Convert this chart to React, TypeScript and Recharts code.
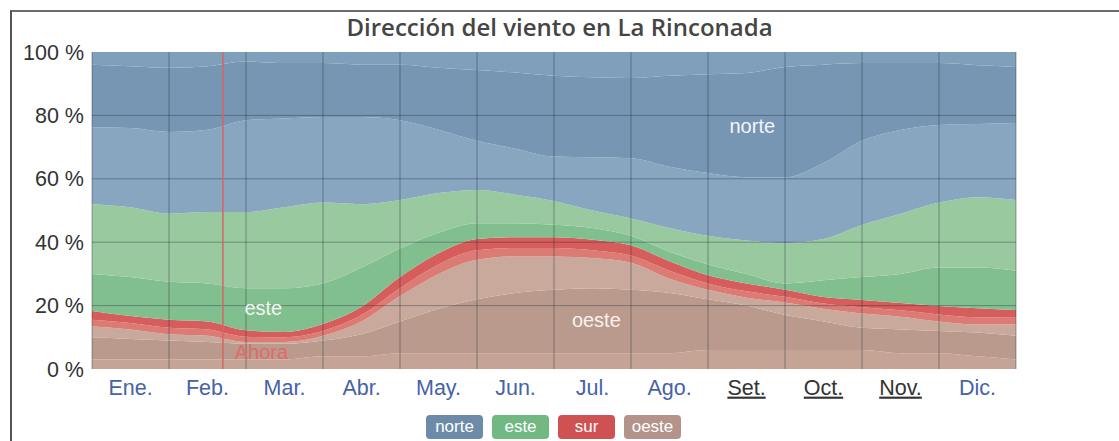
import React from "react";
import { AreaChart, Area, XAxis, YAxis, ReferenceLine, ReferenceDot } from "recharts";

// half-month steps: 0 = 1 Ene, 2 = 1 Feb, ... 24 = 31 Dic
const steps = [0, 1, 2, 3, 4, 5, 6, 7, 8, 9, 10, 11, 12, 13, 14, 15, 16, 17, 18, 19, 20, 21, 22, 23, 24];
const months = ["Ene.", "Feb.", "Mar.", "Abr.", "May.", "Jun.", "Jul.", "Ago.", "Set.", "Oct.", "Nov.", "Dic."];
const underlined = ["Set.", "Oct.", "Nov."];
const monthTicks = [1, 3, 5, 7, 9, 11, 13, 15, 17, 19, 21, 23];
const monthEdges = [0, 2, 4, 6, 8, 10, 12, 14, 16, 18, 20, 22, 24];
const pctTicks = [0, 20, 40, 60, 80, 100];
const nowStep = 3.4;

// cumulative band edges (% of hours), bottom to top
const oesteNoTop = [3, 3, 3, 3, 3, 3, 4, 4, 5, 5, 5, 5, 5, 5, 5, 5, 6, 6, 6, 6, 6, 5, 5, 4, 3];
const oesteCoreTop = [10, 9.5, 9, 8.5, 8, 8, 9, 11, 15, 19, 22, 24, 25, 25.5, 25, 24, 22, 20, 17, 15, 13, 12.5, 12, 11.5, 10.5];
const surBottom = [13.5, 12.5, 11, 10.5, 8.5, 8.5, 10.5, 15, 23, 30, 34.5, 35.5, 35.5, 35, 33.5, 28.5, 25, 22.5, 21, 19, 17.5, 16.5, 15, 14, 14];
const surMid = [15.5, 14.5, 13, 12.5, 10.2, 10, 12, 17, 25.5, 33, 37.5, 38.2, 38.2, 37.5, 35.8, 31, 27, 24.5, 22.8, 20.7, 19.5, 18.5, 17.2, 16.3, 16.2];
const surTop = [18.3, 16.7, 15.5, 15, 12.2, 11.7, 14.2, 19.6, 29, 36.5, 41, 41.6, 41.6, 40.8, 39, 34, 29.6, 27, 25, 22.7, 21.8, 20.8, 19.9, 19.2, 18.6];
const esteCoreTop = [30, 29, 27.5, 27, 25.5, 25.5, 27, 32, 38, 43, 46, 46, 45.5, 44.5, 42, 37, 33, 30, 27, 28, 29, 30, 32, 32, 31];
const esteTop = [52, 51, 49, 49.5, 49.5, 51, 52.5, 52, 53.3, 55.5, 56.5, 55, 53, 50, 47.5, 44.5, 42, 40.5, 39.7, 41, 45.4, 49, 52.5, 54.2, 53.3];
const norteNeTop = [76.3, 76, 74.8, 75.5, 78.5, 79, 79.5, 79.5, 78.5, 75.5, 72, 69.5, 67, 66.8, 66.5, 63.8, 61.8, 60.5, 60.5, 65, 72, 75.4, 77, 77.3, 77.6];
const norteCoreTop = [96, 95.5, 95, 95.5, 97, 96.5, 96.5, 96, 96, 95, 94.3, 93.5, 92.5, 92, 91.8, 92.5, 93, 93.4, 95.3, 96, 96.5, 96.5, 96.5, 95.8, 95.3];

const data = steps.map((s, i) => ({
  step: s,
  floor: 0,
  oesteNoTop: oesteNoTop[i],
  oesteCoreTop: oesteCoreTop[i],
  surBottom: surBottom[i],
  surMid: surMid[i],
  surTop: surTop[i],
  esteCoreTop: esteCoreTop[i],
  esteTop: esteTop[i],
  norteNeTop: norteNeTop[i],
  norteCoreTop: norteCoreTop[i],
  ceil: 100,
}));

const bands = [
  { low: "floor", high: "oesteNoTop", fill: "#c5a496" },
  { low: "oesteNoTop", high: "oesteCoreTop", fill: "#ba9a8c" },
  { low: "oesteCoreTop", high: "surBottom", fill: "#c8a99b" },
  { low: "surBottom", high: "surMid", fill: "#dc7a74" },
  { low: "surMid", high: "surTop", fill: "#d65d5c" },
  { low: "surTop", high: "esteCoreTop", fill: "#82bf8f" },
  { low: "esteCoreTop", high: "esteTop", fill: "#99c99f" },
  { low: "esteTop", high: "norteNeTop", fill: "#88a6c0" },
  { low: "norteNeTop", high: "norteCoreTop", fill: "#7696b3" },
  { low: "norteCoreTop", high: "ceil", fill: "#809fbb" },
];

const legendItems = [
  { name: "norte", color: "#6c8ba8" },
  { name: "este", color: "#72b883" },
  { name: "sur", color: "#cf5151" },
  { name: "oeste", color: "#b3938a" },
];

const axisFont = "'Liberation Sans', Arial, sans-serif";

function MonthTick(props: any) {
  const { x, y, payload } = props;
  const label = months[(payload.value - 1) / 2];
  const dark = underlined.includes(label);
  return (
    <text
      x={x}
      y={y}
      dy="0.355em"
      textAnchor="middle"
      fontSize={21.5}
      fontFamily={axisFont}
      fill={dark ? "#333" : "#4662a8"}
      textDecoration={dark ? "underline" : undefined}
    >
      {label}
    </text>
  );
}

export default function App() {
  return (
    <div style={{ position: "absolute", left: 0, top: 0, width: 1119, height: 441, background: "#fff", overflow: "hidden" }}>
      <div style={{ position: "absolute", left: 10, top: 10, width: 1109, height: 431, borderTop: "2px solid #6a6a6a", borderLeft: "2px solid #555" }} />
      <div
        style={{
          position: "absolute",
          left: 0,
          width: 1119,
          top: 10,
          textAlign: "center",
          fontFamily: "'Open Sans', sans-serif",
          fontSize: 24,
          fontWeight: 600,
          color: "#454545",
        }}
      >
        Dirección del viento en La Rinconada
      </div>
      <div style={{ position: "absolute", left: 0, top: 0 }}>
        <AreaChart width={1119} height={441} data={data} margin={{ top: 52, right: 23, bottom: 42, left: 12 }}>
          <XAxis
            dataKey="step"
            type="number"
            domain={[0, 24]}
            ticks={monthTicks}
            tick={<MonthTick />}
            tickSize={0}
            tickMargin={18}
            axisLine={false}
            height={30}
            interval={0}
          />
          <YAxis
            yAxisId="left"
            domain={[0, 100]}
            ticks={pctTicks}
            tickFormatter={(v) => `${v} %`}
            tick={{ fontSize: 21.5, fill: "#333", fontFamily: axisFont }}
            tickSize={0}
            tickMargin={8}
            axisLine={false}
            width={80}
          />
          <YAxis
            yAxisId="right"
            orientation="right"
            reversed
            domain={[0, 100]}
            ticks={pctTicks}
            tickFormatter={(v) => `${v} %`}
            tick={{ fontSize: 21.5, fill: "#333", fontFamily: axisFont, textAnchor: "start" }}
            tickSize={0}
            tickMargin={9}
            axisLine={false}
            width={80}
          />
          {bands.map((b) => (
            <Area
              key={b.high}
              yAxisId="left"
              type="monotone"
              dataKey={(d: any) => [d[b.low], d[b.high]]}
              stroke="none"
              fill={b.fill}
              fillOpacity={1}
              isAnimationActive={false}
              dot={false}
              activeDot={false}
            />
          ))}
          {[20, 40, 60, 80].map((v) => (
            <ReferenceLine key={"h" + v} yAxisId="left" y={v} stroke="rgba(35,45,55,0.38)" strokeWidth={1} />
          ))}
          {monthEdges.map((v) => (
            <ReferenceLine key={"v" + v} yAxisId="left" x={v} stroke="rgba(35,45,55,0.42)" strokeWidth={1} />
          ))}
          <ReferenceLine yAxisId="left" x={nowStep} stroke="#d86464" strokeWidth={1.5} />
          <ReferenceDot yAxisId="left" x={17.15} y={76.7} r={0} fill="none" stroke="none"
            label={{ value: "norte", position: "center", fill: "#f3f5f8", fontSize: 20, fontFamily: axisFont }} />
          <ReferenceDot yAxisId="left" x={4.45} y={19.2} r={0} fill="none" stroke="none"
            label={{ value: "este", position: "center", fill: "#f3f7f3", fontSize: 20, fontFamily: axisFont }} />
          <ReferenceDot yAxisId="left" x={13.1} y={15.5} r={0} fill="none" stroke="none"
            label={{ value: "oeste", position: "center", fill: "#f8f2ef", fontSize: 20, fontFamily: axisFont }} />
          <ReferenceDot yAxisId="left" x={4.4} y={5.4} r={0} fill="none" stroke="none"
            label={{ value: "Ahora", position: "center", fill: "#e06a6a", fontSize: 20, fontFamily: axisFont }} />
        </AreaChart>
      </div>
      <div style={{ position: "absolute", left: 426, top: 415, display: "flex", gap: 9 }}>
        {legendItems.map((it) => (
          <div
            key={it.name}
            style={{
              width: 57,
              height: 24,
              borderRadius: 4,
              background: it.color,
              color: "#fff",
              fontFamily: axisFont,
              fontSize: 17,
              lineHeight: "24px",
              textAlign: "center",
            }}
          >
            {it.name}
          </div>
        ))}
      </div>
    </div>
  );
}
